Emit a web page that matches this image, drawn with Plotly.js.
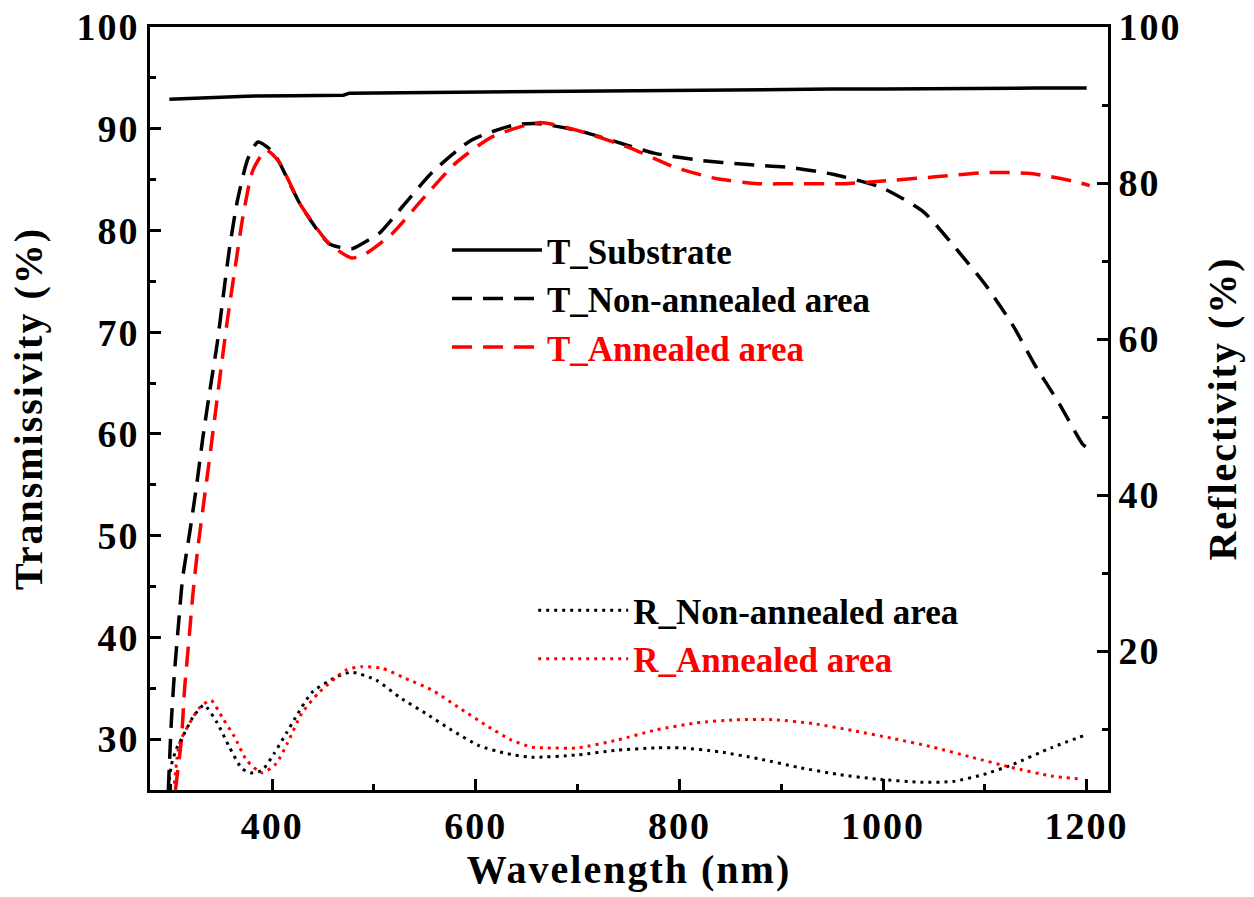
<!DOCTYPE html>
<html>
<head>
<meta charset="utf-8">
<script src="https://cdn.plot.ly/plotly-3.0.1.min.js"></script>
<style>
html,body{margin:0;padding:0;background:#fff;}
#chart{width:1254px;height:897px;}
#chart .xtitle, #chart .ytitle, #chart .y2title{letter-spacing:2px;}
#chart .xtick text, #chart .ytick text, #chart .y2tick text{letter-spacing:2px;}
</style>
</head>
<body>
<div id="chart"></div>
<script>
// ---- Data ----
const wlSub = [299, 320, 345, 375, 420, 470, 476, 540, 600, 660, 700, 760, 800, 850, 900, 950, 1000, 1050, 1100, 1150, 1200];
const tSub  = [92.9, 93.0, 93.05, 93.2, 93.25, 93.3, 93.5, 93.55, 93.6, 93.65, 93.75, 93.8, 93.8, 93.85, 93.85, 93.9, 93.9, 93.95, 94.0, 94.0, 94.0];

const wlTNon = [298, 301, 304, 308, 312, 319, 326, 332, 339, 346, 352, 358, 366, 376, 386, 400, 407, 428, 456, 478, 490, 505, 531, 557, 596, 639, 662, 701, 735, 775, 820, 864, 908, 952, 999, 1040, 1071, 1101, 1128, 1149, 1173, 1196, 1201];
const tNon   = [25.0, 31.8, 36.5, 41.3, 45.8, 50.3, 55.1, 59.7, 64.4, 68.9, 73.6, 78.2, 83.0, 87.0, 88.7, 87.8, 86.7, 82.5, 78.7, 78.2, 78.8, 79.7, 82.7, 85.7, 88.9, 90.4, 90.5, 89.8, 88.8, 87.6, 86.9, 86.5, 86.2, 85.5, 84.2, 81.8, 78.3, 74.6, 70.6, 66.8, 63.0, 59.0, 58.6];

const wlTAnn = [305, 308, 311, 314, 318, 322, 327, 333, 338, 345, 351, 357, 364, 371, 381, 394, 407, 428, 456, 478, 490, 518, 547, 580, 616, 662, 701, 752, 796, 836, 877, 918, 962, 1006, 1054, 1101, 1145, 1189, 1203];
const tAnn   = [25.0, 27.5, 30.1, 35.0, 39.5, 44.1, 48.8, 53.4, 57.2, 62.7, 67.4, 71.9, 76.6, 81.2, 85.9, 87.9, 86.7, 82.5, 78.7, 77.3, 77.6, 79.7, 83.0, 86.6, 89.2, 90.6, 89.8, 88.1, 86.2, 85.1, 84.6, 84.6, 84.6, 84.9, 85.3, 85.7, 85.6, 84.8, 84.4];

const wlRNon = [299, 301, 306, 312, 322, 333, 346, 358, 370, 379, 390, 402, 414, 423, 439, 463, 478, 502, 525, 551, 576, 603, 629, 655, 700, 739, 777, 801, 839, 878, 917, 956, 994, 1037, 1069, 1099, 1126, 1165, 1200];
const rNon   = [3.5, 5.4, 7.5, 9.0, 11.5, 13.1, 10.8, 7.7, 5.0, 4.4, 4.7, 6.9, 9.5, 11.5, 14.7, 16.7, 17.3, 16.3, 14.1, 12.0, 9.9, 7.9, 6.9, 6.4, 6.7, 7.3, 7.6, 7.6, 7.1, 6.2, 5.1, 4.2, 3.6, 3.2, 3.3, 4.2, 5.4, 7.6, 9.3];

const wlRAnn = [304, 309, 319, 329, 340, 351, 363, 375, 390, 404, 415, 429, 446, 473, 488, 508, 531, 557, 583, 610, 635, 655, 670, 700, 739, 777, 817, 855, 894, 932, 971, 1010, 1049, 1087, 1126, 1165, 1195];
const rAnn   = [3.0, 8.2, 10.8, 12.8, 13.7, 11.5, 9.0, 6.0, 4.4, 5.6, 8.2, 12.0, 14.7, 17.6, 18.0, 17.8, 16.5, 15.0, 12.8, 10.5, 8.6, 7.7, 7.6, 7.6, 8.6, 9.9, 10.8, 11.2, 11.2, 10.7, 9.8, 8.8, 7.7, 6.4, 5.1, 4.0, 3.6];

const xTitle = 'Wavelength (nm)';
const yTitle = 'Transmissivity (%)';
const y2Title = 'Reflectivity (%)';
const names = ['T_Substrate', 'T_Non-annealed area', '<span style="color:#ff0000">T_Annealed area</span>',
               'R_Non-annealed area', '<span style="color:#ff0000">R_Annealed area</span>'];

// ---- Chart ----
const FONT = 'Liberation Serif, Times New Roman, serif';
const dashT = '20px,11px';
const dotR = '3px,5px';

const traces = [
  {x: wlSub, y: tSub, name: names[0], mode: 'lines', line: {color: '#000', width: 3.5}, legend: 'legend'},
  {x: wlTNon, y: tNon, name: names[1], mode: 'lines', line: {color: '#000', width: 3.5, dash: dashT, shape: 'spline', smoothing: 0.6}, legend: 'legend'},
  {x: wlTAnn, y: tAnn, name: names[2], mode: 'lines', line: {color: '#ff0000', width: 3.5, dash: dashT, shape: 'spline', smoothing: 0.6}, legend: 'legend'},
  {x: wlRNon, y: rNon, name: names[3], mode: 'lines', yaxis: 'y2', line: {color: '#000', width: 3, dash: dotR, shape: 'spline', smoothing: 0.6}, legend: 'legend2'},
  {x: wlRAnn, y: rAnn, name: names[4], mode: 'lines', yaxis: 'y2', line: {color: '#ff0000', width: 3, dash: dotR, shape: 'spline', smoothing: 0.6}, legend: 'legend2'}
];

const tickFont = {family: FONT, size: 38, color: '#000', weight: 'bold'};
const titleFont = {family: FONT, size: 40, color: '#000', weight: 'bold'};
const legFont = {family: FONT, size: 35, color: '#000', weight: 'bold'};

const layout = {
  width: 1254, height: 897,
  margin: {l: 150, r: 146, t: 27, b: 107, pad: 0},
  paper_bgcolor: '#fff', plot_bgcolor: '#fff',
  showlegend: true,
  xaxis: {
    range: [280, 1221], tick0: 0, dtick: 200,
    showline: true, linecolor: '#000', linewidth: 3, mirror: true,
    ticks: 'inside', ticklen: 11, tickwidth: 3, tickcolor: '#000',
    minor: {dtick: 100, ticks: 'inside', ticklen: 6, tickwidth: 3, tickcolor: '#000'},
    showgrid: false, zeroline: false,
    tickfont: tickFont,
    title: {text: xTitle, font: titleFont, standoff: 2}
  },
  yaxis: {
    range: [25, 100], tick0: 0, dtick: 10,
    showline: true, linecolor: '#000', linewidth: 3,
    ticks: 'inside', ticklen: 11, tickwidth: 3, tickcolor: '#000',
    minor: {dtick: 5, ticks: 'inside', ticklen: 6, tickwidth: 3, tickcolor: '#000'},
    showgrid: false, zeroline: false,
    tickfont: tickFont,
    title: {text: yTitle, font: titleFont, standoff: 28}
  },
  yaxis2: {
    overlaying: 'y', side: 'right',
    range: [2.2, 100], tick0: 0, dtick: 20,
    showline: true, linecolor: '#000', linewidth: 3,
    ticks: 'inside', ticklen: 11, tickwidth: 3, tickcolor: '#000',
    minor: {dtick: 10, ticks: 'inside', ticklen: 6, tickwidth: 3, tickcolor: '#000'},
    showgrid: false, zeroline: false,
    tickfont: tickFont,
    title: {text: y2Title, font: titleFont, standoff: 34}
  },
  legend: {
    x: 0.31, y: 0.746, xanchor: 'left', yanchor: 'top',
    bgcolor: 'rgba(0,0,0,0)', borderwidth: 0,
    font: legFont, itemwidth: 90, tracegroupgap: 0
  },
  legend2: {
    x: 0.4, y: 0.274, xanchor: 'left', yanchor: 'top',
    bgcolor: 'rgba(0,0,0,0)', borderwidth: 0,
    font: legFont, itemwidth: 90, tracegroupgap: 0
  }
};

Plotly.newPlot('chart', traces, layout, {displayModeBar: false, staticPlot: true});
</script>
</body>
</html>
